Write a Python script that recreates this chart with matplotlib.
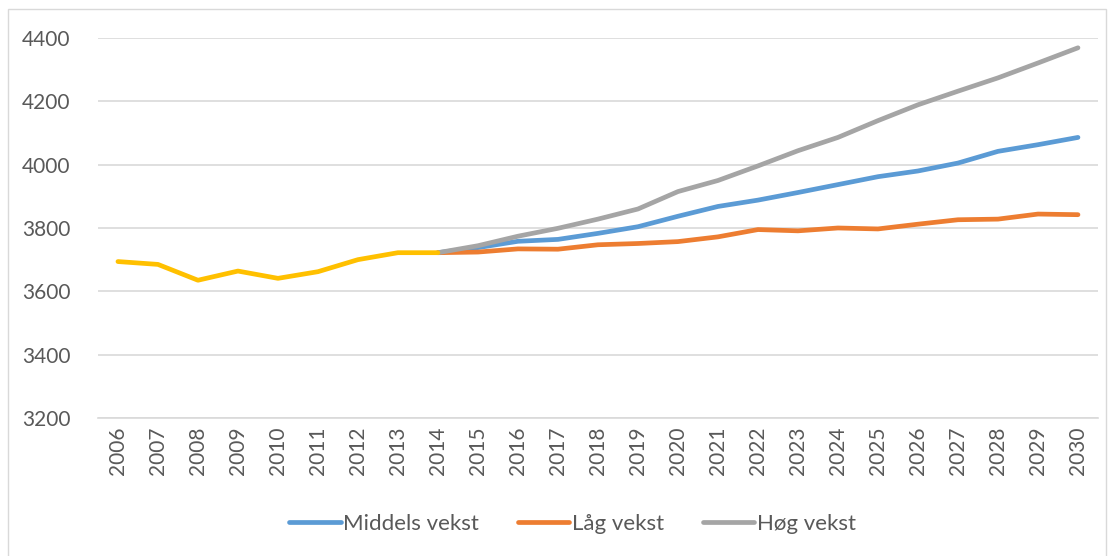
import matplotlib.pyplot as plt
from matplotlib.patches import Rectangle

# Data
years = [str(y) for y in range(2006, 2031)]
hist_years = years[:9]            # 2006-2014
hist = [3694, 3685, 3635, 3664, 3641, 3662, 3700, 3722, 3722]

prog_years = years[8:]            # 2014-2030
middels = [3722, 3738, 3758, 3764, 3783, 3804, 3837, 3868, 3888, 3912, 3937,
           3962, 3980, 4005, 4042, 4063, 4086]
laag = [3722, 3724, 3734, 3733, 3747, 3751, 3757, 3772, 3795, 3791, 3800,
        3797, 3812, 3826, 3828, 3844, 3842]
hoeg = [3722, 3744, 3774, 3799, 3828, 3860, 3915, 3950, 3996, 4044, 4086,
        4139, 4189, 4232, 4274, 4321, 4369]

plt.rcParams['font.family'] = ['Lato', 'DejaVu Sans']
txt = '#595959'

fig = plt.figure(figsize=(11.13, 5.56), dpi=100)
ax = fig.add_axes([0.088, 0.2482, 0.8985, 0.6835])

x_hist = list(range(0, 9))
x_prog = list(range(8, 25))
lw = 3.4
ax.plot(x_prog, middels, color='#5B9BD5', lw=lw, label='Middels vekst', solid_capstyle='round')
ax.plot(x_prog, laag, color='#ED7D31', lw=lw, label='Låg vekst', solid_capstyle='round')
ax.plot(x_prog, hoeg, color='#A5A5A5', lw=lw, label='Høg vekst', solid_capstyle='round')
ax.plot(x_hist, hist, color='#FFC000', lw=lw, solid_capstyle='round')

ax.set_xlim(-0.5, 24.5)
ax.set_ylim(3200, 4400)
ax.set_yticks(range(3200, 4401, 200))
ax.set_xticks(range(25))
ax.set_xticklabels(years, rotation=90)
ax.tick_params(axis='y', length=0, pad=20, labelsize=15, labelcolor=txt)
ax.tick_params(axis='x', length=0, pad=6, labelsize=15, labelcolor=txt)
ax.grid(axis='y', color='#D9D9D9', lw=1.2)
ax.set_axisbelow(True)
for s in ['top', 'right', 'left']:
    ax.spines[s].set_visible(False)
ax.spines['bottom'].set_color('#D9D9D9')
ax.spines['bottom'].set_linewidth(1.2)

leg = fig.legend(loc='center', bbox_to_anchor=(0.5144, 0.058), ncol=3, frameon=False,
                 fontsize=16, handlelength=2.3, handletextpad=0.12, columnspacing=1.75)
for t in leg.get_texts():
    t.set_color(txt)

fig.patches.append(Rectangle((8 / 1113, -0.01), 1098 / 1113, 1 - 9 / 556 + 0.01,
                             transform=fig.transFigure, fill=False,
                             edgecolor='#D9D9D9', lw=1))

fig.savefig('out.png', dpi=100)
